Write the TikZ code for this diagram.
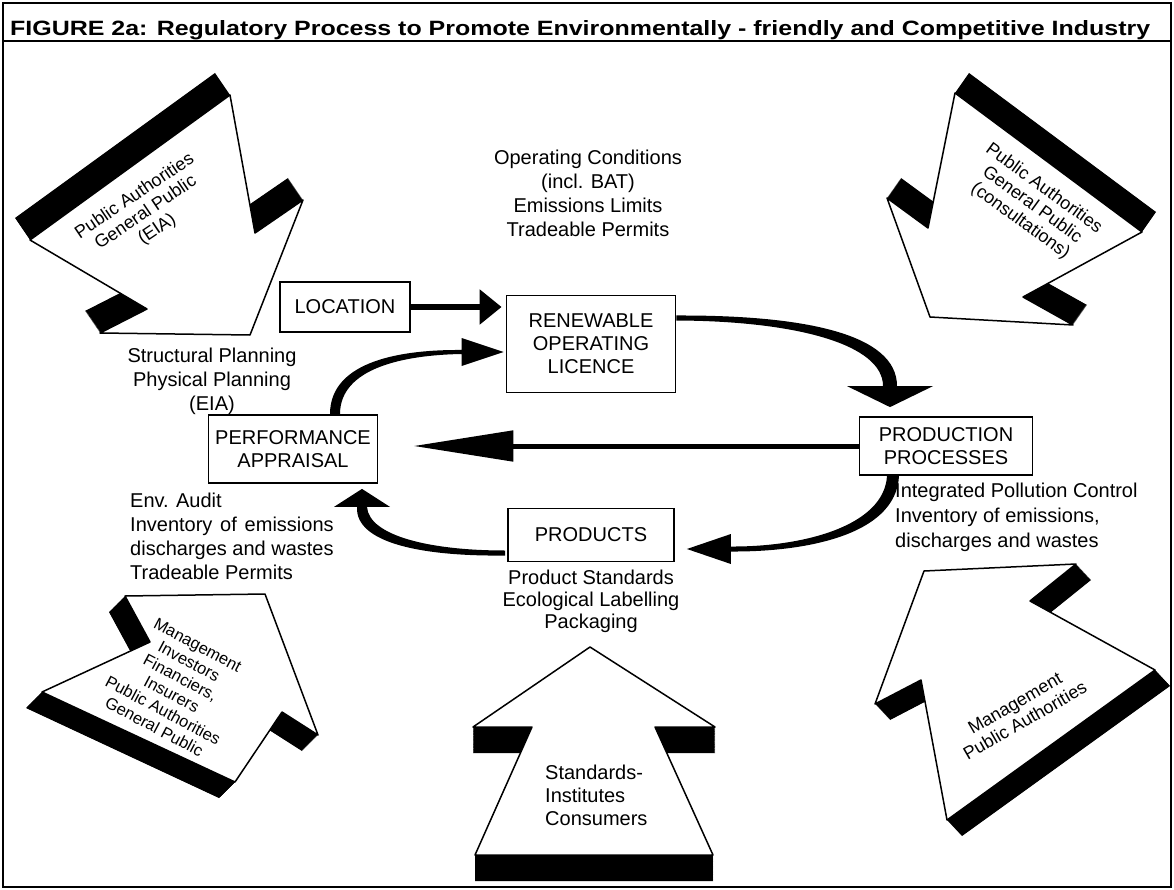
\documentclass[tikz,border=0pt]{standalone}
\usepackage{fontspec}
\setmainfont{Liberation Sans}
\usepackage{graphicx}
\usepackage{calc}
\usetikzlibrary{arrows.meta,calc}

% block arrow: solid black extrusion swept along #1, white face #2 on top
\newcommand{\blockarrow}[2]{%
  \foreach \t [evaluate=\t as \s using \t/60] in {0,...,60}{%
    \fill[black, shift={($\s*#1$)}] #2 -- cycle;
  }%
  \draw[face] #2 -- cycle;
}

\begin{document}
\begin{tikzpicture}[x=1pt,y=-1pt,
  every node/.style={font=\fontsize{20}{23}\selectfont},
  face/.style={fill=white, draw=black, line width=1.5pt, line join=round},
  box/.style={draw=black, line width=1.8pt, fill=white, align=center, inner sep=0pt},
  txt/.style={align=center, inner sep=0pt, font=\fontsize{20}{24}\selectfont},
  atxt/.style={align=center, inner sep=0pt, font=\fontsize{18}{20}\selectfont},
  flow/.style={draw=black, line width=#1},
]
\useasboundingbox (0,0) rectangle (1174,890);
\fill[white] (0,0) rectangle (1174,890);

% frame and title bar
\draw[line width=1.5pt] (3,3) rectangle (1171,887);
\draw[line width=1.5pt] (3,41) -- (1171,41);
\node[anchor=base west, inner sep=0pt] (title) at (10,36)
  {\resizebox{1140pt}{15pt}{\bfseries FIGURE 2a: Regulatory Process to Promote Environmentally - friendly and Competitive Industry}};

% the five block arrows of the actors
\blockarrow{(-15,-22)}{(30,240) -- (230,95) -- (255,233) -- (303,200) -- (250,335) -- (100,333) -- (147,309)}
\blockarrow{(14,-20)}{(955,93) -- (928,228) -- (887,198) -- (930,317) -- (1073,325) -- (1023,297) -- (1142,232)}
\blockarrow{(-16,16)}{(125,596) -- (265,594) -- (318,735) -- (282,712) -- (235,782) -- (42,692) -- (150,642)}
\blockarrow{(15,16)}{(924,571) -- (1076,564) -- (1030,601) -- (1155,670) -- (947,820) -- (921,680) -- (875,704)}
\blockarrow{(0,26)}{(590,647) -- (715,727) -- (655,727) -- (713,855) -- (475,855) -- (532,727) -- (473,727)}

\node[atxt, rotate=34] (actTL) at (146,213) {Public Authorities\\General Public\\(EIA)};
\node[atxt, rotate=-36] (actTR) at (1032,205) {Public Authorities\\General Public\\(consultations)};
\node[atxt, rotate=-28, font=\fontsize{16.5}{18.5}\selectfont] (actBL) at (176,686)
  {Management\\Investors\\Financiers,\\Insurers\\Public Authorities\\General Public};
\node[atxt, rotate=30] (actBR) at (1020,712) {Management\\Public Authorities};
\node[txt, align=left, anchor=west, font=\fontsize{20}{23}\selectfont] (actB) at (545,795)
  {Standards-\\Institutes\\Consumers};

% process boxes
\node[box, minimum width=130pt, minimum height=50pt] (loc) at (345,307) {LOCATION};
\node[box, minimum width=169pt, minimum height=97pt] (lic) at (591,344) {RENEWABLE\\OPERATING\\LICENCE};
\node[box, minimum width=169pt, minimum height=68pt] (perf) at (293,449) {PERFORMANCE\\APPRAISAL};
\node[box, minimum width=173pt, minimum height=58pt] (prod) at (946,446) {PRODUCTION\\PROCESSES};
\node[box, minimum width=166pt, minimum height=53pt] (prods) at (591,535) {PRODUCTS};

% instruments attached to each step
\node[txt] (opc) at (588,193) {Operating Conditions\\(incl. BAT)\\Emissions Limits\\Tradeable Permits};
\node[txt] (plan) at (212,381) {Structural Planning\\Physical Planning\\(EIA)};
\node[txt, align=left, anchor=west] (audit) at (130,536)
  {Env. Audit\\\makebox[\widthof{discharges and wastes}][s]{Inventory of emissions}\\discharges and wastes\\Tradeable Permits};
\node[txt, align=left, anchor=west, font=\fontsize{20}{25}\selectfont] (ipc) at (895,517)
  {Integrated Pollution Control\\Inventory of emissions,\\discharges and wastes};
\node[txt, font=\fontsize{20}{22}\selectfont] (pstd) at (591,601) {Product Standards\\Ecological Labelling\\Packaging};

% straight connectors
\draw[flow=6pt, -{Triangle[length=22pt,width=34pt]}, shorten >=4pt]
  (loc.east) -- (loc.east -| lic.west);
\draw[flow=5pt, -{Triangle[length=100pt,width=30pt]}, shorten >=35pt]
  (prod.west) -- (perf.east |- prod.west);

% tapered curved connectors (stroke and head filled as one outline)
\coordinate (c1s) at ([xshift=42pt]perf.north);
\coordinate (c1t) at ([xshift=-2pt,yshift=-8pt]lic.west);
\fill (c1s) ++(-5,0) .. controls ($(c1s)+(-5,-54)$) and ($(c1t)+(-100,-2.5)$) .. ($(c1t)+(-42,-2)$)
  -- ($(c1t)+(-42,-14)$) -- (c1t) -- ($(c1t)+(-42,14)$) -- ($(c1t)+(-42,2)$)
  .. controls ($(c1t)+(-100,3)$) and ($(c1s)+(5,-46)$) .. ($(c1s)+(5,0)$) -- cycle;

\coordinate (c2s) at ([yshift=26pt]lic.east);
\coordinate (c2t) at ([xshift=-56pt,yshift=9pt]prod.north);
\fill ($(c2s)+(0,-2.5)$) .. controls ($(c2s)+(129,-3)$) and ($(c2t)+(7,-73)$) .. ($(c2t)+(7,-21)$)
  -- ($(c2t)+(43,-21)$) -- (c2t) -- ($(c2t)+(-43,-21)$) -- ($(c2t)+(-7,-21)$)
  .. controls ($(c2t)+(-7,-63)$) and ($(c2s)+(119,3)$) .. ($(c2s)+(0,2.5)$) -- cycle;

\coordinate (c3s) at ([xshift=-53pt]prod.south);
\coordinate (c3t) at ([xshift=12pt,yshift=-14pt]prods.east);
\fill ($(c3s)+(6,0)$) .. controls ($(c3s)+(3,61)$) and ($(c3t)+(114,3)$) .. ($(c3t)+(44,2.5)$)
  -- ($(c3t)+(44,15)$) -- (c3t) -- ($(c3t)+(44,-15)$) -- ($(c3t)+(44,-2.5)$)
  .. controls ($(c3t)+(114,-2)$) and ($(c3s)+(-9,51)$) .. ($(c3s)+(-6,0)$) -- cycle;

\coordinate (c4s) at ([xshift=-2pt,yshift=-18pt]prods.west);
\coordinate (c4t) at ([xshift=69pt,yshift=-5pt]perf.south);
\fill ($(c4s)+(0,2.5)$) .. controls ($(c4s)+(-80,3.5)$) and ($(c4t)+(-7,55)$) .. ($(c4t)+(-5,18)$)
  -- ($(c4t)+(-28,18)$) -- (c4t) -- ($(c4t)+(28,18)$) -- ($(c4t)+(5,18)$)
  .. controls ($(c4t)+(7,47)$) and ($(c4s)+(-75,-2.5)$) .. ($(c4s)+(0,-2.5)$) -- cycle;
\end{tikzpicture}
\end{document}
